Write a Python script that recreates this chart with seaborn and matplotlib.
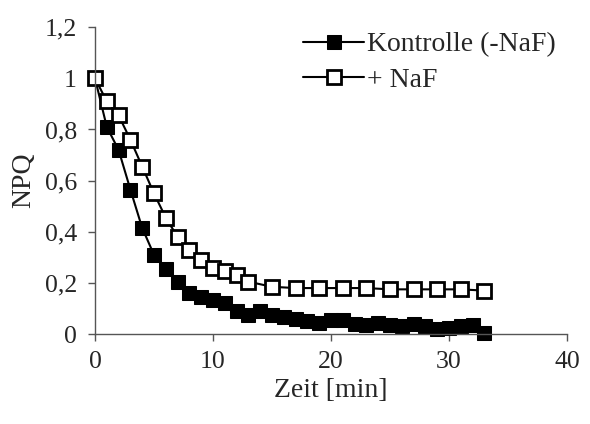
import matplotlib
matplotlib.use("Agg")
import matplotlib.pyplot as plt
import seaborn as sns
import pandas as pd
from matplotlib.ticker import FuncFormatter, MultipleLocator

# Data
time_ctrl = list(range(0, 34))
npq_ctrl = [1.0, 0.81, 0.72, 0.565, 0.415, 0.31, 0.255, 0.205, 0.16, 0.145,
            0.135, 0.12, 0.09, 0.075, 0.09, 0.075, 0.065, 0.06, 0.05, 0.045,
            0.055, 0.055, 0.04, 0.035, 0.045, 0.035, 0.03, 0.04, 0.03, 0.02,
            0.025, 0.03, 0.035, 0.005]
time_naf = list(range(0, 14)) + list(range(15, 34, 2))
npq_naf = [1.0, 0.91, 0.855, 0.76, 0.655, 0.55, 0.455, 0.38, 0.33, 0.29,
           0.26, 0.245, 0.23, 0.205, 0.185, 0.18, 0.18, 0.18, 0.18, 0.175,
           0.175, 0.175, 0.175, 0.17]
label_ctrl = "Kontrolle (-NaF)"
label_naf = "+ NaF"
x_label = "Zeit [min]"
y_label = "NPQ"

sns.set_style("white")
plt.rcParams['font.family'] = ['Liberation Serif', 'DejaVu Serif']

df_ctrl = pd.DataFrame({"t": time_ctrl, "npq": npq_ctrl})
df_naf = pd.DataFrame({"t": time_naf, "npq": npq_naf})

fig = plt.figure(figsize=(5.9, 4.24), dpi=100)
ax = fig.add_axes([0.161, 0.212, 0.8, 0.724])

sns.lineplot(data=df_ctrl, x="t", y="npq", ax=ax, color="black", lw=1.5,
             marker="s", markersize=10.5, markerfacecolor="black",
             markeredgecolor="black", label=label_ctrl)
sns.lineplot(data=df_naf, x="t", y="npq", ax=ax, color="black", lw=1.5,
             marker="s", markersize=10.5, markerfacecolor="white",
             markeredgecolor="black", markeredgewidth=2.0, label=label_naf)

ax.set_xlim(0, 40)
ax.set_ylim(0, 1.2)
ax.xaxis.set_major_locator(MultipleLocator(10))
ax.yaxis.set_major_locator(MultipleLocator(0.2))
ax.yaxis.set_major_formatter(FuncFormatter(lambda v, p: f"{v:.1f}".rstrip('0').rstrip('.').replace('.', ',') if abs(v) > 1e-9 else "0"))
ax.set_xlabel(x_label, fontsize=20, labelpad=3.5)
ax.set_ylabel(y_label, fontsize=20, labelpad=6)
ax.tick_params(axis='both', labelsize=18.5, direction='out', length=5, width=1,
               color='#555555', bottom=True, left=True)
ax.tick_params(axis='x', pad=7)
ax.tick_params(axis='y', pad=8)
for s in ['top', 'right']:
    ax.spines[s].set_visible(False)
for s in ['left', 'bottom']:
    ax.spines[s].set_color('#555555')
    ax.spines[s].set_linewidth(1)

leg = ax.legend(loc='upper right', frameon=False, fontsize=20, handlelength=2.2,
                handletextpad=0.1, borderaxespad=0.0, labelspacing=0.35,
                bbox_to_anchor=(1.0, 1.02))
ax.patch.set_alpha(0)
for line in ax.lines:
    line.set_clip_on(False)

fig.savefig("out.png", dpi=100)
